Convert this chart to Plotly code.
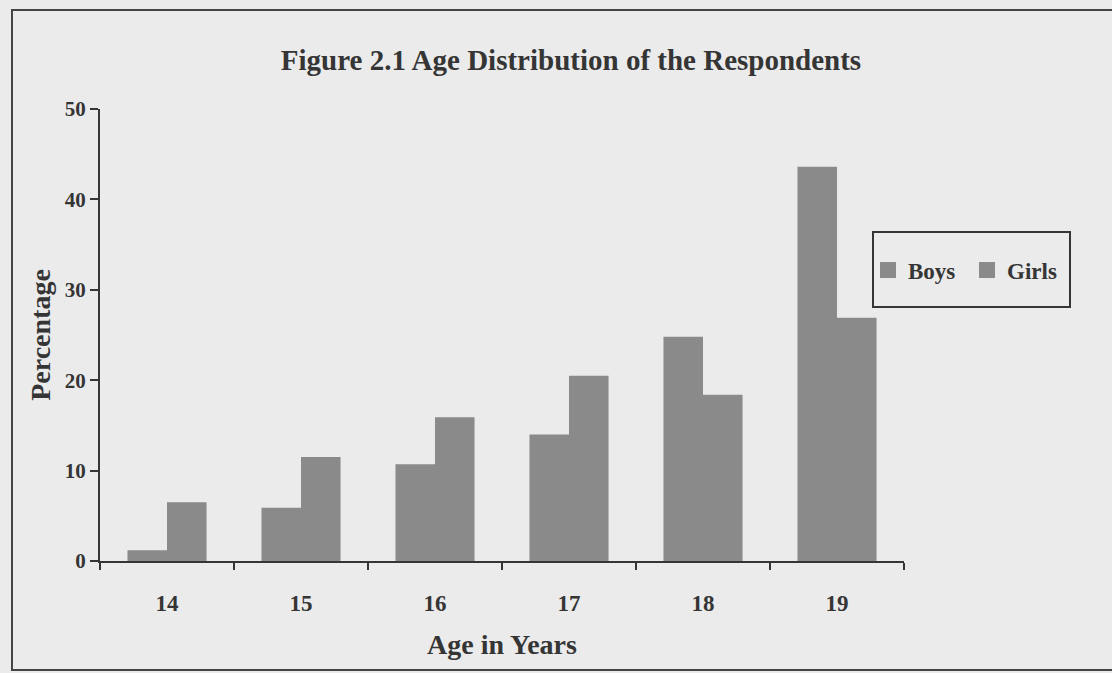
import plotly.graph_objects as go

ages = ["14", "15", "16", "17", "18", "19"]
boys = [1.2, 5.9, 10.7, 14.0, 24.8, 43.6]
girls = [6.5, 11.5, 15.9, 20.5, 18.4, 26.9]
y_ticks = [0, 10, 20, 30, 40, 50]

BAR = "#8a8a8a"
INK = "#353535"
BG = "#ebebeb"
FONT = "Liberation Serif"

W, H = 1112, 673
L, R, T, B = 100, 904, 109, 561


def px(x):
    return (x - L) / (R - L)


def py(y):
    return (B - y) / (B - T)


fig = go.Figure()
fig.add_trace(go.Bar(name="Boys", x=ages, y=boys, marker=dict(color=BAR, line=dict(width=0)), showlegend=False))
fig.add_trace(go.Bar(name="Girls", x=ages, y=girls, marker=dict(color=BAR, line=dict(width=0)), showlegend=False))
# legend entries with larger square swatches
for name in ["Boys", "Girls"]:
    fig.add_trace(go.Scatter(name=name, x=[None], y=[None], mode="markers",
                             marker=dict(symbol="square", size=16, color=BAR)))

frame_path = "M{x1},{y0} L{x0},{y0} L{x0},{y1} L{x1},{y1}".format(
    x0=px(12), x1=px(1140), y0=py(10), y1=py(670))

fig.update_layout(
    width=W, height=H,
    barmode="group", bargap=0.41, bargroupgap=0,
    paper_bgcolor=BG, plot_bgcolor=BG,
    margin=dict(l=L, r=W - R, t=T, b=H - B),
    font=dict(family=FONT, color=INK, weight="bold"),
    title=dict(text="Figure 2.1 Age Distribution of the Respondents",
               x=px(571), xref="paper", xanchor="center", y=1 - 60 / H, yanchor="middle",
               font=dict(family=FONT, size=29, color=INK, weight="bold")),
    showlegend=True,
    legend=dict(orientation="h", x=px(868), xanchor="left", y=py(270), yanchor="middle",
                bgcolor="rgba(0,0,0,0)", borderwidth=0,
                font=dict(family=FONT, size=23, color=INK, weight="bold"),
                itemwidth=30, entrywidth=54, traceorder="normal"),
    xaxis=dict(type="category", showline=True, linecolor=INK, linewidth=2,
               ticks="outside", tickson="boundaries", ticklen=7, tickwidth=2, tickcolor=INK,
               ticklabelstandoff=20,
               tickfont=dict(family=FONT, size=23, color=INK, weight="bold"),
               showgrid=False, zeroline=False,
               title=dict(text="Age in Years", standoff=20,
                          font=dict(family=FONT, size=28, color=INK, weight="bold"))),
    yaxis=dict(range=[0, 50], tickvals=y_ticks, showline=True, linecolor=INK, linewidth=2,
               ticks="outside", ticklen=8, tickwidth=2, tickcolor=INK,
               tickfont=dict(family=FONT, size=21, color=INK, weight="bold"),
               showgrid=False, zeroline=False,
               title=dict(text="Percentage", standoff=6,
                          font=dict(family=FONT, size=28, color=INK, weight="bold"))),
    shapes=[
        dict(type="rect", xref="paper", yref="paper",
             x0=px(873), x1=px(1070), y0=py(307), y1=py(232),
             line=dict(color=INK, width=2), fillcolor="rgba(0,0,0,0)"),
        dict(type="path", xref="paper", yref="paper", path=frame_path,
             line=dict(color="#444444", width=2), layer="below"),
    ],
)

fig.write_html("out.html", config={"displayModeBar": False},
               post_script="document.body.style.margin='0';document.body.style.background='#ebebeb';")
